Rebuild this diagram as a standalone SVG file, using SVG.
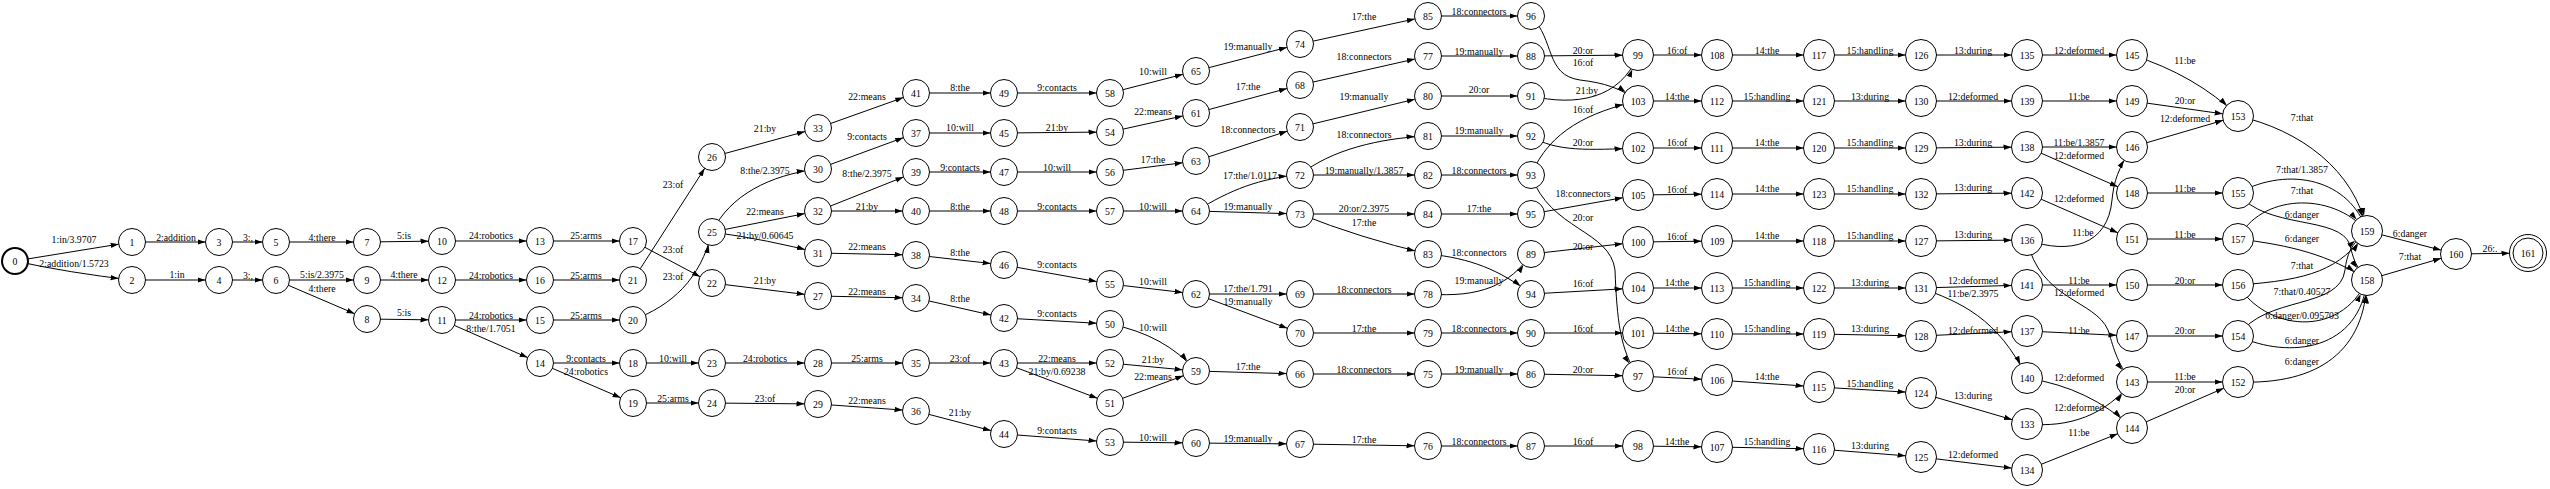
<svg xmlns="http://www.w3.org/2000/svg" width="2550" height="489" viewBox="0 0 2550 489">
<style>
.e,.f,.g{fill:none;stroke:#000;stroke-width:1}
.e{marker-end:url(#a2)}
.f{marker-end:url(#a3)}
.g{marker-end:url(#a4)}
text{font-family:"Liberation Serif","Times New Roman",serif;font-size:9.8px;text-anchor:middle;fill:#000}
.n circle{fill:#fff;stroke:#000;stroke-width:1}
</style>
<defs>
<marker id="a2" markerUnits="userSpaceOnUse" markerWidth="30" markerHeight="8" refX="21.5" refY="4" orient="auto"><path d="M0,1.3L8,4L0,6.7Z" fill="#000"/></marker>
<marker id="a3" markerUnits="userSpaceOnUse" markerWidth="30" markerHeight="8" refX="23.5" refY="4" orient="auto"><path d="M0,1.3L8,4L0,6.7Z" fill="#000"/></marker>
<marker id="a4" markerUnits="userSpaceOnUse" markerWidth="30" markerHeight="8" refX="26.5" refY="4" orient="auto"><path d="M0,1.3L8,4L0,6.7Z" fill="#000"/></marker>
</defs>
<rect width="2550" height="489" fill="#fff"/>
<g id="connectors">
<path class="e" d="M15 261L132 242"/>
<path class="e" d="M15 261Q70 273 132 280"/>
<path class="e" d="M132 242L219 242"/>
<path class="e" d="M219 242L276 242"/>
<path class="e" d="M276 242L367 242"/>
<path class="e" d="M367 242L442 241"/>
<path class="e" d="M132 280L219 280"/>
<path class="e" d="M219 280L276 280"/>
<path class="e" d="M276 280L367 280"/>
<path class="e" d="M276 280L367 319"/>
<path class="e" d="M367 280L442 280"/>
<path class="e" d="M367 319L442 320"/>
<path class="e" d="M442 241L540 241"/>
<path class="e" d="M540 241L633 241"/>
<path class="e" d="M633 280L712 157"/>
<path class="e" d="M633 241L712 283"/>
<path class="e" d="M442 280L540 280"/>
<path class="e" d="M540 280L633 280"/>
<path class="e" d="M633 320C672 305 700 280 712 232"/>
<path class="e" d="M442 320L540 320"/>
<path class="e" d="M442 320L540 363"/>
<path class="e" d="M540 320L633 320"/>
<path class="e" d="M540 363L633 363"/>
<path class="e" d="M540 363L633 403"/>
<path class="e" d="M633 363L712 363"/>
<path class="e" d="M633 403L712 403"/>
<path class="e" d="M712 363L818 363"/>
<path class="e" d="M712 403L818 404"/>
<path class="e" d="M712 157L818 128"/>
<path class="e" d="M712 232C730 195 770 175 818 169"/>
<path class="e" d="M712 232L818 211"/>
<path class="e" d="M712 232Q770 240 818 253"/>
<path class="e" d="M712 283L818 296"/>
<path class="e" d="M818 128L916 93"/>
<path class="e" d="M818 169L916 133"/>
<path class="e" d="M818 211L916 172"/>
<path class="e" d="M818 211L916 211"/>
<path class="e" d="M818 253L916 255"/>
<path class="e" d="M818 296L916 298"/>
<path class="e" d="M818 363L916 363"/>
<path class="e" d="M818 404L916 411"/>
<path class="e" d="M916 93L1004 93"/>
<path class="e" d="M1004 93L1110 93"/>
<path class="e" d="M1110 93L1196 71"/>
<path class="e" d="M1196 71L1300 44"/>
<path class="e" d="M916 133L1004 133"/>
<path class="e" d="M1004 133L1110 132"/>
<path class="e" d="M1110 132L1196 113"/>
<path class="e" d="M1196 113L1300 85"/>
<path class="e" d="M916 172L1004 172"/>
<path class="e" d="M1004 172L1110 172"/>
<path class="e" d="M1110 172L1196 161"/>
<path class="e" d="M1196 161L1300 127"/>
<path class="e" d="M916 211L1004 211"/>
<path class="e" d="M1004 211L1110 211"/>
<path class="e" d="M1110 211L1196 211"/>
<path class="e" d="M1196 211C1230 190 1260 178 1300 175"/>
<path class="e" d="M1196 211L1300 214"/>
<path class="e" d="M916 255L1004 265"/>
<path class="e" d="M1004 265L1110 284"/>
<path class="e" d="M1110 284L1196 294"/>
<path class="e" d="M1196 294L1300 294"/>
<path class="e" d="M1196 294L1300 333"/>
<path class="e" d="M916 298L1004 318"/>
<path class="e" d="M1004 318L1110 324"/>
<path class="e" d="M1110 324Q1165 335 1196 371"/>
<path class="e" d="M916 363L1004 363"/>
<path class="e" d="M1004 363L1110 363"/>
<path class="e" d="M1004 363L1110 403"/>
<path class="e" d="M1110 363L1196 371"/>
<path class="e" d="M1110 403L1196 371"/>
<path class="e" d="M1196 371L1300 374"/>
<path class="e" d="M916 411L1004 434"/>
<path class="e" d="M1004 434L1110 442"/>
<path class="e" d="M1110 442L1196 443"/>
<path class="e" d="M1196 443L1300 444"/>
<path class="e" d="M1300 44L1428 16"/>
<path class="e" d="M1428 16L1531 16"/>
<path class="e" d="M1300 85L1428 56"/>
<path class="e" d="M1428 56L1531 56"/>
<path class="f" d="M1531 56L1638 55"/>
<path class="f" d="M1531 16C1555 40 1545 75 1580 80C1605 83 1620 88 1638 101"/>
<path class="f" d="M1638 55L1717 55"/>
<path class="e" d="M1300 127L1428 96"/>
<path class="e" d="M1428 96L1531 96"/>
<path class="f" d="M1531 96C1575 106 1620 100 1638 55"/>
<path class="f" d="M1531 175C1550 130 1590 112 1638 101"/>
<path class="f" d="M1638 101L1717 101"/>
<path class="e" d="M1300 175C1330 150 1380 138 1428 136"/>
<path class="e" d="M1428 136L1531 136"/>
<path class="f" d="M1531 136C1555 152 1590 150 1638 148"/>
<path class="f" d="M1638 148L1717 148"/>
<path class="e" d="M1300 175L1428 175"/>
<path class="e" d="M1428 175L1531 175"/>
<path class="f" d="M1531 214L1638 195"/>
<path class="f" d="M1638 195L1717 194"/>
<path class="e" d="M1300 214L1428 214"/>
<path class="e" d="M1428 214L1531 214"/>
<path class="e" d="M1300 214Q1360 238 1428 254"/>
<path class="f" d="M1531 175C1550 230 1610 230 1615 270C1617 320 1620 350 1638 376"/>
<path class="f" d="M1638 242L1717 241"/>
<path class="f" d="M1531 254L1638 242"/>
<path class="e" d="M1428 254C1470 258 1500 270 1531 294"/>
<path class="e" d="M1428 294C1480 298 1510 285 1531 254"/>
<path class="e" d="M1300 294L1428 294"/>
<path class="f" d="M1531 294L1638 288"/>
<path class="f" d="M1638 288L1717 288"/>
<path class="e" d="M1300 333L1428 333"/>
<path class="e" d="M1428 333L1531 333"/>
<path class="f" d="M1531 333L1638 333"/>
<path class="f" d="M1638 333L1717 334"/>
<path class="e" d="M1300 374L1428 374"/>
<path class="e" d="M1428 374L1531 374"/>
<path class="f" d="M1531 374L1638 376"/>
<path class="f" d="M1638 376L1717 380"/>
<path class="e" d="M1300 444L1428 446"/>
<path class="e" d="M1428 446L1531 446"/>
<path class="f" d="M1531 446L1638 446"/>
<path class="f" d="M1638 446L1717 447"/>
<path class="f" d="M1717 55L1819 55"/>
<path class="f" d="M1819 55L1921 55"/>
<path class="f" d="M1921 55L2027 55"/>
<path class="f" d="M2027 55L2132 55"/>
<path class="f" d="M1717 101L1819 101"/>
<path class="f" d="M1819 101L1921 101"/>
<path class="f" d="M1921 101L2027 101"/>
<path class="f" d="M2027 101L2132 101"/>
<path class="f" d="M1717 148L1819 148"/>
<path class="f" d="M1819 148L1921 148"/>
<path class="f" d="M1921 148L2027 147"/>
<path class="f" d="M2027 147L2132 147"/>
<path class="f" d="M2027 147L2132 193"/>
<path class="f" d="M1717 194L1819 194"/>
<path class="f" d="M1819 194L1921 194"/>
<path class="f" d="M1921 194L2027 193"/>
<path class="f" d="M2027 193L2132 239"/>
<path class="f" d="M1717 241L1819 241"/>
<path class="f" d="M1819 241L1921 241"/>
<path class="f" d="M1921 241L2027 240"/>
<path class="f" d="M2027 240C2070 255 2108 245 2112 200C2114 180 2118 170 2132 147"/>
<path class="f" d="M1717 288L1819 288"/>
<path class="f" d="M1819 288L1921 288"/>
<path class="f" d="M1921 288L2027 285"/>
<path class="f" d="M1921 288C1960 302 1998 318 2027 378"/>
<path class="f" d="M2027 285L2132 285"/>
<path class="f" d="M2027 240C2040 300 2095 300 2108 330C2113 345 2116 362 2132 382"/>
<path class="f" d="M1717 334L1819 334"/>
<path class="f" d="M1819 334L1921 336"/>
<path class="f" d="M1921 336L2027 331"/>
<path class="f" d="M2027 331L2132 336"/>
<path class="f" d="M1717 380L1819 387"/>
<path class="f" d="M1819 387L1921 393"/>
<path class="f" d="M1921 393L2027 424"/>
<path class="f" d="M2027 378Q2090 388 2132 428"/>
<path class="f" d="M2027 424C2070 428 2105 415 2132 382"/>
<path class="f" d="M2027 470L2132 428"/>
<path class="f" d="M1717 447L1819 449"/>
<path class="f" d="M1819 449L1921 457"/>
<path class="f" d="M1921 457L2027 470"/>
<path class="f" d="M2132 55Q2195 75 2238 116"/>
<path class="f" d="M2132 101L2238 116"/>
<path class="f" d="M2132 147L2238 116"/>
<path class="f" d="M2238 116C2300 130 2355 170 2367 231"/>
<path class="f" d="M2238 193C2290 165 2350 180 2367 231"/>
<path class="f" d="M2132 193L2238 193"/>
<path class="f" d="M2238 239C2260 195 2330 190 2367 231"/>
<path class="f" d="M2238 193C2265 230 2340 215 2350 245C2353 258 2355 265 2367 280"/>
<path class="f" d="M2132 239L2238 239"/>
<path class="f" d="M2238 239C2290 245 2330 255 2367 280"/>
<path class="f" d="M2367 231L2456 254"/>
<path class="f" d="M2367 280L2456 254"/>
<path class="g" d="M2456 254L2528 253"/>
<path class="f" d="M2132 285L2238 285"/>
<path class="f" d="M2238 285C2310 280 2340 270 2367 231"/>
<path class="f" d="M2238 336C2265 295 2340 310 2345 270C2347 255 2350 245 2367 231"/>
<path class="f" d="M2238 285C2265 330 2340 340 2367 280"/>
<path class="f" d="M2132 336L2238 336"/>
<path class="f" d="M2238 336C2290 360 2360 350 2367 280"/>
<path class="f" d="M2238 382C2320 385 2365 350 2367 280"/>
<path class="f" d="M2132 382L2238 382"/>
<path class="f" d="M2132 428L2238 382"/>
</g>
<g id="nodes">
<g id="n0" class="n"><circle cx="15" cy="261" r="13" style="stroke-width:2"/><text x="15" y="264.5">0</text></g>
<g id="n1" class="n"><circle cx="132" cy="242" r="13.5"/><text x="132" y="245.5">1</text></g>
<g id="n2" class="n"><circle cx="132" cy="280" r="13.5"/><text x="132" y="283.5">2</text></g>
<g id="n3" class="n"><circle cx="219" cy="242" r="13.5"/><text x="219" y="245.5">3</text></g>
<g id="n4" class="n"><circle cx="219" cy="280" r="13.5"/><text x="219" y="283.5">4</text></g>
<g id="n5" class="n"><circle cx="276" cy="242" r="13.5"/><text x="276" y="245.5">5</text></g>
<g id="n6" class="n"><circle cx="276" cy="280" r="13.5"/><text x="276" y="283.5">6</text></g>
<g id="n7" class="n"><circle cx="367" cy="242" r="13.5"/><text x="367" y="245.5">7</text></g>
<g id="n8" class="n"><circle cx="367" cy="319" r="13.5"/><text x="367" y="322.5">8</text></g>
<g id="n9" class="n"><circle cx="367" cy="280" r="13.5"/><text x="367" y="283.5">9</text></g>
<g id="n10" class="n"><circle cx="442" cy="241" r="13.5"/><text x="442" y="244.5">10</text></g>
<g id="n11" class="n"><circle cx="442" cy="320" r="13.5"/><text x="442" y="323.5">11</text></g>
<g id="n12" class="n"><circle cx="442" cy="280" r="13.5"/><text x="442" y="283.5">12</text></g>
<g id="n13" class="n"><circle cx="540" cy="241" r="13.5"/><text x="540" y="244.5">13</text></g>
<g id="n14" class="n"><circle cx="540" cy="363" r="13.5"/><text x="540" y="366.5">14</text></g>
<g id="n15" class="n"><circle cx="540" cy="320" r="13.5"/><text x="540" y="323.5">15</text></g>
<g id="n16" class="n"><circle cx="540" cy="280" r="13.5"/><text x="540" y="283.5">16</text></g>
<g id="n17" class="n"><circle cx="633" cy="241" r="13.5"/><text x="633" y="244.5">17</text></g>
<g id="n18" class="n"><circle cx="633" cy="363" r="13.5"/><text x="633" y="366.5">18</text></g>
<g id="n19" class="n"><circle cx="633" cy="403" r="13.5"/><text x="633" y="406.5">19</text></g>
<g id="n20" class="n"><circle cx="633" cy="320" r="13.5"/><text x="633" y="323.5">20</text></g>
<g id="n21" class="n"><circle cx="633" cy="280" r="13.5"/><text x="633" y="283.5">21</text></g>
<g id="n22" class="n"><circle cx="712" cy="283" r="13.5"/><text x="712" y="286.5">22</text></g>
<g id="n23" class="n"><circle cx="712" cy="363" r="13.5"/><text x="712" y="366.5">23</text></g>
<g id="n24" class="n"><circle cx="712" cy="403" r="13.5"/><text x="712" y="406.5">24</text></g>
<g id="n25" class="n"><circle cx="712" cy="232" r="13.5"/><text x="712" y="235.5">25</text></g>
<g id="n26" class="n"><circle cx="712" cy="157" r="13.5"/><text x="712" y="160.5">26</text></g>
<g id="n27" class="n"><circle cx="818" cy="296" r="13.5"/><text x="818" y="299.5">27</text></g>
<g id="n28" class="n"><circle cx="818" cy="363" r="13.5"/><text x="818" y="366.5">28</text></g>
<g id="n29" class="n"><circle cx="818" cy="404" r="13.5"/><text x="818" y="407.5">29</text></g>
<g id="n30" class="n"><circle cx="818" cy="169" r="13.5"/><text x="818" y="172.5">30</text></g>
<g id="n31" class="n"><circle cx="818" cy="253" r="13.5"/><text x="818" y="256.5">31</text></g>
<g id="n32" class="n"><circle cx="818" cy="211" r="13.5"/><text x="818" y="214.5">32</text></g>
<g id="n33" class="n"><circle cx="818" cy="128" r="13.5"/><text x="818" y="131.5">33</text></g>
<g id="n34" class="n"><circle cx="916" cy="298" r="13.5"/><text x="916" y="301.5">34</text></g>
<g id="n35" class="n"><circle cx="916" cy="363" r="13.5"/><text x="916" y="366.5">35</text></g>
<g id="n36" class="n"><circle cx="916" cy="411" r="13.5"/><text x="916" y="414.5">36</text></g>
<g id="n37" class="n"><circle cx="916" cy="133" r="13.5"/><text x="916" y="136.5">37</text></g>
<g id="n38" class="n"><circle cx="916" cy="255" r="13.5"/><text x="916" y="258.5">38</text></g>
<g id="n39" class="n"><circle cx="916" cy="172" r="13.5"/><text x="916" y="175.5">39</text></g>
<g id="n40" class="n"><circle cx="916" cy="211" r="13.5"/><text x="916" y="214.5">40</text></g>
<g id="n41" class="n"><circle cx="916" cy="93" r="13.5"/><text x="916" y="96.5">41</text></g>
<g id="n42" class="n"><circle cx="1004" cy="318" r="13.5"/><text x="1004" y="321.5">42</text></g>
<g id="n43" class="n"><circle cx="1004" cy="363" r="13.5"/><text x="1004" y="366.5">43</text></g>
<g id="n44" class="n"><circle cx="1004" cy="434" r="13.5"/><text x="1004" y="437.5">44</text></g>
<g id="n45" class="n"><circle cx="1004" cy="133" r="13.5"/><text x="1004" y="136.5">45</text></g>
<g id="n46" class="n"><circle cx="1004" cy="265" r="13.5"/><text x="1004" y="268.5">46</text></g>
<g id="n47" class="n"><circle cx="1004" cy="172" r="13.5"/><text x="1004" y="175.5">47</text></g>
<g id="n48" class="n"><circle cx="1004" cy="211" r="13.5"/><text x="1004" y="214.5">48</text></g>
<g id="n49" class="n"><circle cx="1004" cy="93" r="13.5"/><text x="1004" y="96.5">49</text></g>
<g id="n50" class="n"><circle cx="1110" cy="324" r="13.5"/><text x="1110" y="327.5">50</text></g>
<g id="n51" class="n"><circle cx="1110" cy="403" r="13.5"/><text x="1110" y="406.5">51</text></g>
<g id="n52" class="n"><circle cx="1110" cy="363" r="13.5"/><text x="1110" y="366.5">52</text></g>
<g id="n53" class="n"><circle cx="1110" cy="442" r="13.5"/><text x="1110" y="445.5">53</text></g>
<g id="n54" class="n"><circle cx="1110" cy="132" r="13.5"/><text x="1110" y="135.5">54</text></g>
<g id="n55" class="n"><circle cx="1110" cy="284" r="13.5"/><text x="1110" y="287.5">55</text></g>
<g id="n56" class="n"><circle cx="1110" cy="172" r="13.5"/><text x="1110" y="175.5">56</text></g>
<g id="n57" class="n"><circle cx="1110" cy="211" r="13.5"/><text x="1110" y="214.5">57</text></g>
<g id="n58" class="n"><circle cx="1110" cy="93" r="13.5"/><text x="1110" y="96.5">58</text></g>
<g id="n59" class="n"><circle cx="1196" cy="371" r="13.5"/><text x="1196" y="374.5">59</text></g>
<g id="n60" class="n"><circle cx="1196" cy="443" r="13.5"/><text x="1196" y="446.5">60</text></g>
<g id="n61" class="n"><circle cx="1196" cy="113" r="13.5"/><text x="1196" y="116.5">61</text></g>
<g id="n62" class="n"><circle cx="1196" cy="294" r="13.5"/><text x="1196" y="297.5">62</text></g>
<g id="n63" class="n"><circle cx="1196" cy="161" r="13.5"/><text x="1196" y="164.5">63</text></g>
<g id="n64" class="n"><circle cx="1196" cy="211" r="13.5"/><text x="1196" y="214.5">64</text></g>
<g id="n65" class="n"><circle cx="1196" cy="71" r="13.5"/><text x="1196" y="74.5">65</text></g>
<g id="n66" class="n"><circle cx="1300" cy="374" r="13.5"/><text x="1300" y="377.5">66</text></g>
<g id="n67" class="n"><circle cx="1300" cy="444" r="13.5"/><text x="1300" y="447.5">67</text></g>
<g id="n68" class="n"><circle cx="1300" cy="85" r="13.5"/><text x="1300" y="88.5">68</text></g>
<g id="n69" class="n"><circle cx="1300" cy="294" r="13.5"/><text x="1300" y="297.5">69</text></g>
<g id="n70" class="n"><circle cx="1300" cy="333" r="13.5"/><text x="1300" y="336.5">70</text></g>
<g id="n71" class="n"><circle cx="1300" cy="127" r="13.5"/><text x="1300" y="130.5">71</text></g>
<g id="n72" class="n"><circle cx="1300" cy="175" r="13.5"/><text x="1300" y="178.5">72</text></g>
<g id="n73" class="n"><circle cx="1300" cy="214" r="13.5"/><text x="1300" y="217.5">73</text></g>
<g id="n74" class="n"><circle cx="1300" cy="44" r="13.5"/><text x="1300" y="47.5">74</text></g>
<g id="n75" class="n"><circle cx="1428" cy="374" r="13.5"/><text x="1428" y="377.5">75</text></g>
<g id="n76" class="n"><circle cx="1428" cy="446" r="13.5"/><text x="1428" y="449.5">76</text></g>
<g id="n77" class="n"><circle cx="1428" cy="56" r="13.5"/><text x="1428" y="59.5">77</text></g>
<g id="n78" class="n"><circle cx="1428" cy="294" r="13.5"/><text x="1428" y="297.5">78</text></g>
<g id="n79" class="n"><circle cx="1428" cy="333" r="13.5"/><text x="1428" y="336.5">79</text></g>
<g id="n80" class="n"><circle cx="1428" cy="96" r="13.5"/><text x="1428" y="99.5">80</text></g>
<g id="n81" class="n"><circle cx="1428" cy="136" r="13.5"/><text x="1428" y="139.5">81</text></g>
<g id="n82" class="n"><circle cx="1428" cy="175" r="13.5"/><text x="1428" y="178.5">82</text></g>
<g id="n83" class="n"><circle cx="1428" cy="254" r="13.5"/><text x="1428" y="257.5">83</text></g>
<g id="n84" class="n"><circle cx="1428" cy="214" r="13.5"/><text x="1428" y="217.5">84</text></g>
<g id="n85" class="n"><circle cx="1428" cy="16" r="13.5"/><text x="1428" y="19.5">85</text></g>
<g id="n86" class="n"><circle cx="1531" cy="374" r="13.5"/><text x="1531" y="377.5">86</text></g>
<g id="n87" class="n"><circle cx="1531" cy="446" r="13.5"/><text x="1531" y="449.5">87</text></g>
<g id="n88" class="n"><circle cx="1531" cy="56" r="13.5"/><text x="1531" y="59.5">88</text></g>
<g id="n89" class="n"><circle cx="1531" cy="254" r="13.5"/><text x="1531" y="257.5">89</text></g>
<g id="n90" class="n"><circle cx="1531" cy="333" r="13.5"/><text x="1531" y="336.5">90</text></g>
<g id="n91" class="n"><circle cx="1531" cy="96" r="13.5"/><text x="1531" y="99.5">91</text></g>
<g id="n92" class="n"><circle cx="1531" cy="136" r="13.5"/><text x="1531" y="139.5">92</text></g>
<g id="n93" class="n"><circle cx="1531" cy="175" r="13.5"/><text x="1531" y="178.5">93</text></g>
<g id="n94" class="n"><circle cx="1531" cy="294" r="13.5"/><text x="1531" y="297.5">94</text></g>
<g id="n95" class="n"><circle cx="1531" cy="214" r="13.5"/><text x="1531" y="217.5">95</text></g>
<g id="n96" class="n"><circle cx="1531" cy="16" r="13.5"/><text x="1531" y="19.5">96</text></g>
<g id="n97" class="n"><circle cx="1638" cy="376" r="15.5"/><text x="1638" y="379.5">97</text></g>
<g id="n98" class="n"><circle cx="1638" cy="446" r="15.5"/><text x="1638" y="449.5">98</text></g>
<g id="n99" class="n"><circle cx="1638" cy="55" r="15.5"/><text x="1638" y="58.5">99</text></g>
<g id="n100" class="n"><circle cx="1638" cy="242" r="15.5"/><text x="1638" y="245.5">100</text></g>
<g id="n101" class="n"><circle cx="1638" cy="333" r="15.5"/><text x="1638" y="336.5">101</text></g>
<g id="n102" class="n"><circle cx="1638" cy="148" r="15.5"/><text x="1638" y="151.5">102</text></g>
<g id="n103" class="n"><circle cx="1638" cy="101" r="15.5"/><text x="1638" y="104.5">103</text></g>
<g id="n104" class="n"><circle cx="1638" cy="288" r="15.5"/><text x="1638" y="291.5">104</text></g>
<g id="n105" class="n"><circle cx="1638" cy="195" r="15.5"/><text x="1638" y="198.5">105</text></g>
<g id="n106" class="n"><circle cx="1717" cy="380" r="15.5"/><text x="1717" y="383.5">106</text></g>
<g id="n107" class="n"><circle cx="1717" cy="447" r="15.5"/><text x="1717" y="450.5">107</text></g>
<g id="n108" class="n"><circle cx="1717" cy="55" r="15.5"/><text x="1717" y="58.5">108</text></g>
<g id="n109" class="n"><circle cx="1717" cy="241" r="15.5"/><text x="1717" y="244.5">109</text></g>
<g id="n110" class="n"><circle cx="1717" cy="334" r="15.5"/><text x="1717" y="337.5">110</text></g>
<g id="n111" class="n"><circle cx="1717" cy="148" r="15.5"/><text x="1717" y="151.5">111</text></g>
<g id="n112" class="n"><circle cx="1717" cy="101" r="15.5"/><text x="1717" y="104.5">112</text></g>
<g id="n113" class="n"><circle cx="1717" cy="288" r="15.5"/><text x="1717" y="291.5">113</text></g>
<g id="n114" class="n"><circle cx="1717" cy="194" r="15.5"/><text x="1717" y="197.5">114</text></g>
<g id="n115" class="n"><circle cx="1819" cy="387" r="15.5"/><text x="1819" y="390.5">115</text></g>
<g id="n116" class="n"><circle cx="1819" cy="449" r="15.5"/><text x="1819" y="452.5">116</text></g>
<g id="n117" class="n"><circle cx="1819" cy="55" r="15.5"/><text x="1819" y="58.5">117</text></g>
<g id="n118" class="n"><circle cx="1819" cy="241" r="15.5"/><text x="1819" y="244.5">118</text></g>
<g id="n119" class="n"><circle cx="1819" cy="334" r="15.5"/><text x="1819" y="337.5">119</text></g>
<g id="n120" class="n"><circle cx="1819" cy="148" r="15.5"/><text x="1819" y="151.5">120</text></g>
<g id="n121" class="n"><circle cx="1819" cy="101" r="15.5"/><text x="1819" y="104.5">121</text></g>
<g id="n122" class="n"><circle cx="1819" cy="288" r="15.5"/><text x="1819" y="291.5">122</text></g>
<g id="n123" class="n"><circle cx="1819" cy="194" r="15.5"/><text x="1819" y="197.5">123</text></g>
<g id="n124" class="n"><circle cx="1921" cy="393" r="15.5"/><text x="1921" y="396.5">124</text></g>
<g id="n125" class="n"><circle cx="1921" cy="457" r="15.5"/><text x="1921" y="460.5">125</text></g>
<g id="n126" class="n"><circle cx="1921" cy="55" r="15.5"/><text x="1921" y="58.5">126</text></g>
<g id="n127" class="n"><circle cx="1921" cy="241" r="15.5"/><text x="1921" y="244.5">127</text></g>
<g id="n128" class="n"><circle cx="1921" cy="336" r="15.5"/><text x="1921" y="339.5">128</text></g>
<g id="n129" class="n"><circle cx="1921" cy="148" r="15.5"/><text x="1921" y="151.5">129</text></g>
<g id="n130" class="n"><circle cx="1921" cy="101" r="15.5"/><text x="1921" y="104.5">130</text></g>
<g id="n131" class="n"><circle cx="1921" cy="288" r="15.5"/><text x="1921" y="291.5">131</text></g>
<g id="n132" class="n"><circle cx="1921" cy="194" r="15.5"/><text x="1921" y="197.5">132</text></g>
<g id="n133" class="n"><circle cx="2027" cy="424" r="15.5"/><text x="2027" y="427.5">133</text></g>
<g id="n134" class="n"><circle cx="2027" cy="470" r="15.5"/><text x="2027" y="473.5">134</text></g>
<g id="n135" class="n"><circle cx="2027" cy="55" r="15.5"/><text x="2027" y="58.5">135</text></g>
<g id="n136" class="n"><circle cx="2027" cy="240" r="15.5"/><text x="2027" y="243.5">136</text></g>
<g id="n137" class="n"><circle cx="2027" cy="331" r="15.5"/><text x="2027" y="334.5">137</text></g>
<g id="n138" class="n"><circle cx="2027" cy="147" r="15.5"/><text x="2027" y="150.5">138</text></g>
<g id="n139" class="n"><circle cx="2027" cy="101" r="15.5"/><text x="2027" y="104.5">139</text></g>
<g id="n140" class="n"><circle cx="2027" cy="378" r="15.5"/><text x="2027" y="381.5">140</text></g>
<g id="n141" class="n"><circle cx="2027" cy="285" r="15.5"/><text x="2027" y="288.5">141</text></g>
<g id="n142" class="n"><circle cx="2027" cy="193" r="15.5"/><text x="2027" y="196.5">142</text></g>
<g id="n143" class="n"><circle cx="2132" cy="382" r="15.5"/><text x="2132" y="385.5">143</text></g>
<g id="n144" class="n"><circle cx="2132" cy="428" r="15.5"/><text x="2132" y="431.5">144</text></g>
<g id="n145" class="n"><circle cx="2132" cy="55" r="15.5"/><text x="2132" y="58.5">145</text></g>
<g id="n146" class="n"><circle cx="2132" cy="147" r="15.5"/><text x="2132" y="150.5">146</text></g>
<g id="n147" class="n"><circle cx="2132" cy="336" r="15.5"/><text x="2132" y="339.5">147</text></g>
<g id="n148" class="n"><circle cx="2132" cy="193" r="15.5"/><text x="2132" y="196.5">148</text></g>
<g id="n149" class="n"><circle cx="2132" cy="101" r="15.5"/><text x="2132" y="104.5">149</text></g>
<g id="n150" class="n"><circle cx="2132" cy="285" r="15.5"/><text x="2132" y="288.5">150</text></g>
<g id="n151" class="n"><circle cx="2132" cy="239" r="15.5"/><text x="2132" y="242.5">151</text></g>
<g id="n152" class="n"><circle cx="2238" cy="382" r="15.5"/><text x="2238" y="385.5">152</text></g>
<g id="n153" class="n"><circle cx="2238" cy="116" r="15.5"/><text x="2238" y="119.5">153</text></g>
<g id="n154" class="n"><circle cx="2238" cy="336" r="15.5"/><text x="2238" y="339.5">154</text></g>
<g id="n155" class="n"><circle cx="2238" cy="193" r="15.5"/><text x="2238" y="196.5">155</text></g>
<g id="n156" class="n"><circle cx="2238" cy="285" r="15.5"/><text x="2238" y="288.5">156</text></g>
<g id="n157" class="n"><circle cx="2238" cy="239" r="15.5"/><text x="2238" y="242.5">157</text></g>
<g id="n158" class="n"><circle cx="2367" cy="280" r="15.5"/><text x="2367" y="283.5">158</text></g>
<g id="n159" class="n"><circle cx="2367" cy="231" r="15.5"/><text x="2367" y="234.5">159</text></g>
<g id="n160" class="n"><circle cx="2456" cy="254" r="15.5"/><text x="2456" y="257.5">160</text></g>
<g id="n161" class="n"><circle cx="2528" cy="253" r="18.5"/><circle cx="2528" cy="253" r="15"/><text x="2528" y="256.5">161</text></g>
</g>
<g id="edge-labels">
<text x="74" y="243">1:in/3.9707</text>
<text x="74" y="267">2:addition/1.5723</text>
<text x="176" y="241">2:addition</text>
<text x="248" y="241">3:,</text>
<text x="322" y="241">4:there</text>
<text x="404" y="239">5:is</text>
<text x="177" y="278">1:in</text>
<text x="248" y="279">3:,</text>
<text x="322" y="278">5:is/2.3975</text>
<text x="322" y="292">4:there</text>
<text x="404" y="278">4:there</text>
<text x="404" y="316">5:is</text>
<text x="491" y="239">24:robotics</text>
<text x="586" y="239">25:arms</text>
<text x="673" y="188">23:of</text>
<text x="673" y="253">23:of</text>
<text x="491" y="279">24:robotics</text>
<text x="586" y="279">25:arms</text>
<text x="673" y="280">23:of</text>
<text x="491" y="319">24:robotics</text>
<text x="491" y="332">8:the/1.7051</text>
<text x="586" y="319">25:arms</text>
<text x="586" y="362">9:contacts</text>
<text x="586" y="375">24:robotics</text>
<text x="673" y="362">10:will</text>
<text x="673" y="402">25:arms</text>
<text x="765" y="362">24:robotics</text>
<text x="765" y="402">23:of</text>
<text x="765" y="132">21:by</text>
<text x="765" y="174">8:the/2.3975</text>
<text x="765" y="215">22:means</text>
<text x="765" y="239">21:by/0.60645</text>
<text x="765" y="284">21:by</text>
<text x="867" y="100">22:means</text>
<text x="867" y="140">9:contacts</text>
<text x="867" y="177">8:the/2.3975</text>
<text x="867" y="210">21:by</text>
<text x="867" y="250">22:means</text>
<text x="867" y="295">22:means</text>
<text x="867" y="362">25:arms</text>
<text x="867" y="404">22:means</text>
<text x="960" y="91">8:the</text>
<text x="1057" y="91">9:contacts</text>
<text x="1153" y="75">10:will</text>
<text x="1248" y="50">19:manually</text>
<text x="960" y="131">10:will</text>
<text x="1057" y="131">21:by</text>
<text x="1153" y="115">22:means</text>
<text x="1248" y="90">17:the</text>
<text x="960" y="171">9:contacts</text>
<text x="1057" y="171">10:will</text>
<text x="1153" y="163">17:the</text>
<text x="1248" y="133">18:connectors</text>
<text x="960" y="210">8:the</text>
<text x="1057" y="210">9:contacts</text>
<text x="1153" y="210">10:will</text>
<text x="1250" y="179">17:the/1.0117</text>
<text x="1248" y="210">19:manually</text>
<text x="960" y="256">8:the</text>
<text x="1057" y="268">9:contacts</text>
<text x="1153" y="285">10:will</text>
<text x="1248" y="292">17:the/1.791</text>
<text x="1248" y="305">19:manually</text>
<text x="960" y="302">8:the</text>
<text x="1057" y="317">9:contacts</text>
<text x="1153" y="331">10:will</text>
<text x="960" y="362">23:of</text>
<text x="1057" y="362">22:means</text>
<text x="1057" y="375">21:by/0.69238</text>
<text x="1153" y="363">21:by</text>
<text x="1153" y="380">22:means</text>
<text x="1248" y="370">17:the</text>
<text x="960" y="416">21:by</text>
<text x="1057" y="434">9:contacts</text>
<text x="1153" y="441">10:will</text>
<text x="1248" y="442">19:manually</text>
<text x="1364" y="20">17:the</text>
<text x="1479" y="15">18:connectors</text>
<text x="1364" y="60">18:connectors</text>
<text x="1479" y="55">19:manually</text>
<text x="1583" y="54">20:or</text>
<text x="1583" y="66">16:of</text>
<text x="1677" y="54">16:of</text>
<text x="1364" y="100">19:manually</text>
<text x="1479" y="93">20:or</text>
<text x="1587" y="94">21:by</text>
<text x="1583" y="113">16:of</text>
<text x="1677" y="100">14:the</text>
<text x="1364" y="138">18:connectors</text>
<text x="1479" y="134">19:manually</text>
<text x="1583" y="146">20:or</text>
<text x="1677" y="146">16:of</text>
<text x="1364" y="174">19:manually/1.3857</text>
<text x="1479" y="174">18:connectors</text>
<text x="1583" y="197">18:connectors</text>
<text x="1677" y="193">16:of</text>
<text x="1364" y="212">20:or/2.3975</text>
<text x="1479" y="212">17:the</text>
<text x="1364" y="226">17:the</text>
<text x="1583" y="221">20:or</text>
<text x="1677" y="240">16:of</text>
<text x="1583" y="250">20:or</text>
<text x="1479" y="256">18:connectors</text>
<text x="1479" y="284">19:manually</text>
<text x="1364" y="293">18:connectors</text>
<text x="1583" y="287">16:of</text>
<text x="1677" y="286">14:the</text>
<text x="1364" y="332">17:the</text>
<text x="1479" y="332">18:connectors</text>
<text x="1583" y="332">16:of</text>
<text x="1677" y="332">14:the</text>
<text x="1364" y="373">18:connectors</text>
<text x="1479" y="373">19:manually</text>
<text x="1583" y="373">20:or</text>
<text x="1677" y="375">16:of</text>
<text x="1364" y="443">17:the</text>
<text x="1479" y="445">18:connectors</text>
<text x="1583" y="445">16:of</text>
<text x="1677" y="445">14:the</text>
<text x="1767" y="54">14:the</text>
<text x="1870" y="54">15:handling</text>
<text x="1973" y="54">13:during</text>
<text x="2079" y="54">12:deformed</text>
<text x="1767" y="100">15:handling</text>
<text x="1870" y="100">13:during</text>
<text x="1973" y="100">12:deformed</text>
<text x="2079" y="100">11:be</text>
<text x="1767" y="146">14:the</text>
<text x="1870" y="146">15:handling</text>
<text x="1973" y="146">13:during</text>
<text x="2079" y="146">11:be/1.3857</text>
<text x="2079" y="159">12:deformed</text>
<text x="1767" y="192">14:the</text>
<text x="1870" y="192">15:handling</text>
<text x="1973" y="191">13:during</text>
<text x="2079" y="202">12:deformed</text>
<text x="1767" y="239">14:the</text>
<text x="1870" y="239">15:handling</text>
<text x="1973" y="238">13:during</text>
<text x="2083" y="236">11:be</text>
<text x="1767" y="286">15:handling</text>
<text x="1870" y="286">13:during</text>
<text x="1973" y="284">12:deformed</text>
<text x="1973" y="297">11:be/2.3975</text>
<text x="2079" y="284">11:be</text>
<text x="2079" y="296">12:deformed</text>
<text x="1767" y="332">15:handling</text>
<text x="1870" y="332">13:during</text>
<text x="1973" y="334">12:deformed</text>
<text x="2079" y="334">11:be</text>
<text x="1767" y="380">14:the</text>
<text x="1870" y="387">15:handling</text>
<text x="1973" y="399">13:during</text>
<text x="2079" y="381">12:deformed</text>
<text x="2079" y="411">12:deformed</text>
<text x="2079" y="436">11:be</text>
<text x="1767" y="445">15:handling</text>
<text x="1870" y="449">13:during</text>
<text x="1973" y="458">12:deformed</text>
<text x="2185" y="64">11:be</text>
<text x="2185" y="104">20:or</text>
<text x="2185" y="122">12:deformed</text>
<text x="2302" y="121">7:that</text>
<text x="2302" y="173">7:that/1.3857</text>
<text x="2185" y="192">11:be</text>
<text x="2302" y="194">7:that</text>
<text x="2302" y="218">6:danger</text>
<text x="2185" y="238">11:be</text>
<text x="2302" y="242">6:danger</text>
<text x="2410" y="237">6:danger</text>
<text x="2410" y="260">7:that</text>
<text x="2490" y="252">26:.</text>
<text x="2185" y="284">20:or</text>
<text x="2302" y="269">7:that</text>
<text x="2302" y="295">7:that/0.40527</text>
<text x="2302" y="319">6:danger/0.095703</text>
<text x="2185" y="334">20:or</text>
<text x="2302" y="344">6:danger</text>
<text x="2302" y="365">6:danger</text>
<text x="2185" y="380">11:be</text>
<text x="2185" y="393">20:or</text>
</g>
</svg>
